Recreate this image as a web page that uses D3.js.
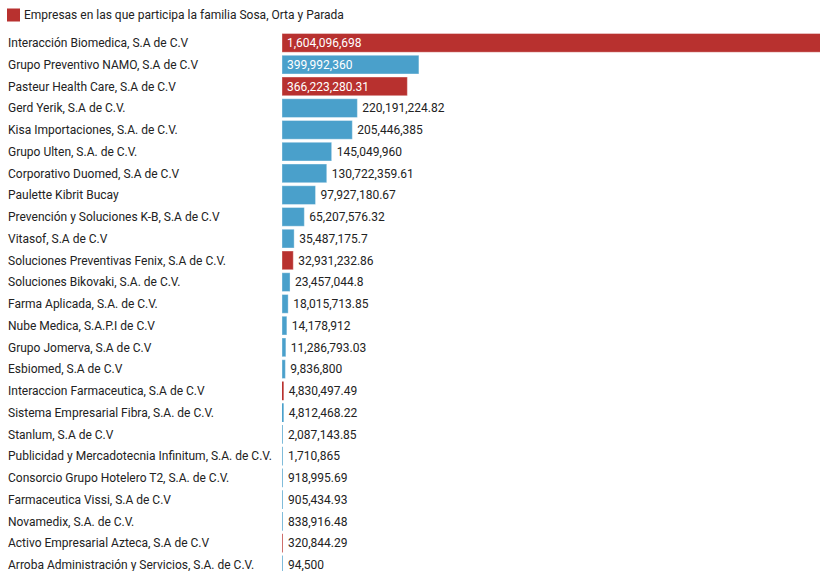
<!DOCTYPE html>
<html>
<head>
<meta charset="utf-8">
<script src="https://cdn.jsdelivr.net/npm/d3@7"></script>
<style>
  body { margin: 0; background: #fff; overflow: hidden; }
  text { font-family: Roboto, "Noto Sans", sans-serif; }
</style>
</head>
<body>
<div id="chart"></div>
<script>
const width = 820;
const height = 571;

const empresas = [
  "Interacción Biomedica, S.A de C.V",
  "Grupo Preventivo NAMO, S.A de C.V",
  "Pasteur Health Care, S.A de C.V",
  "Gerd Yerik, S.A de C.V.",
  "Kisa Importaciones, S.A. de C.V.",
  "Grupo Ulten, S.A. de C.V.",
  "Corporativo Duomed, S.A de C.V",
  "Paulette Kibrit Bucay",
  "Prevención y Soluciones K-B, S.A de C.V",
  "Vitasof, S.A de C.V",
  "Soluciones Preventivas Fenix, S.A de C.V.",
  "Soluciones Bikovaki, S.A. de C.V.",
  "Farma Aplicada, S.A. de C.V.",
  "Nube Medica, S.A.P.I de C.V",
  "Grupo Jomerva, S.A de C.V",
  "Esbiomed, S.A de C.V",
  "Interaccion Farmaceutica, S.A de C.V",
  "Sistema Empresarial Fibra, S.A. de C.V.",
  "Stanlum, S.A de C.V",
  "Publicidad y Mercadotecnia Infinitum, S.A. de C.V.",
  "Consorcio Grupo Hotelero T2, S.A. de C.V.",
  "Farmaceutica Vissi, S.A de C.V",
  "Novamedix, S.A. de C.V.",
  "Activo Empresarial Azteca, S.A de C.V",
  "Arroba Administración y Servicios, S.A. de C.V."
];

const montos = [
  1604096698, 399992360, 366223280.31, 220191224.82, 205446385,
  145049960, 130722359.61, 97927180.67, 65207576.32, 35487175.7,
  32931232.86, 23457044.8, 18015713.85, 14178912, 11286793.03,
  9836800, 4830497.49, 4812468.22, 2087143.85, 1710865,
  918995.69, 905434.93, 838916.48, 320844.29, 94500
];

// true = empresa en la que participa la familia Sosa, Orta y Parada
const familia = [
  true, false, true, false, false,
  false, false, false, false, false,
  true, false, false, false, false,
  false, true, false, false, false,
  false, false, false, true, false
];

const rojo = "#b8312f";
const azul = "#4aa0cb";

const data = empresas.map((n, i) => ({ name: n, value: montos[i], fam: familia[i] }));

const svg = d3.select("#chart").append("svg")
  .attr("width", width)
  .attr("height", height);

// Legend
svg.append("rect")
  .attr("x", 7).attr("y", 8.5)
  .attr("width", 13).attr("height", 13)
  .attr("fill", rojo);
svg.append("text")
  .attr("x", 24).attr("y", 15)
  .attr("dy", "0.35em")
  .attr("font-size", 12)
  .attr("fill", "#222")
  .text("Empresas en las que participa la familia Sosa, Orta y Parada");

const x0 = 282;
const x = d3.scaleLinear()
  .domain([0, d3.max(montos)])
  .range([0, 549]);

const y = d3.scaleBand()
  .domain(empresas)
  .range([32, 32 + 21.75 * empresas.length])
  .paddingInner(0.14)
  .paddingOuter(0.07);

const fmt = d3.format(",");

const rows = svg.append("g").selectAll("g")
  .data(data)
  .enter()
  .append("g")
  .attr("transform", d => "translate(0," + y(d.name) + ")");

rows.append("text")
  .attr("x", 8)
  .attr("y", y.bandwidth() / 2)
  .attr("dy", "0.35em")
  .attr("font-size", 12)
  .attr("fill", "#222")
  .text(d => d.name);

rows.append("rect")
  .attr("x", x0)
  .attr("y", 0)
  .attr("width", d => Math.max(x(d.value), 0.7))
  .attr("height", y.bandwidth())
  .attr("fill", d => d.fam ? rojo : azul)
  .attr("stroke", d => x(d.value) > 3 ? "rgba(255,255,255,0.35)" : "none")
  .attr("stroke-width", 1);

rows.append("text")
  .attr("x", d => x(d.value) > 110 ? x0 + 5 : x0 + Math.max(x(d.value), 1) + 5)
  .attr("y", y.bandwidth() / 2)
  .attr("dy", "0.35em")
  .attr("font-size", 12)
  .attr("fill", d => x(d.value) > 110 ? "#fff" : "#222")
  .text(d => fmt(d.value));
</script>
</body>
</html>
